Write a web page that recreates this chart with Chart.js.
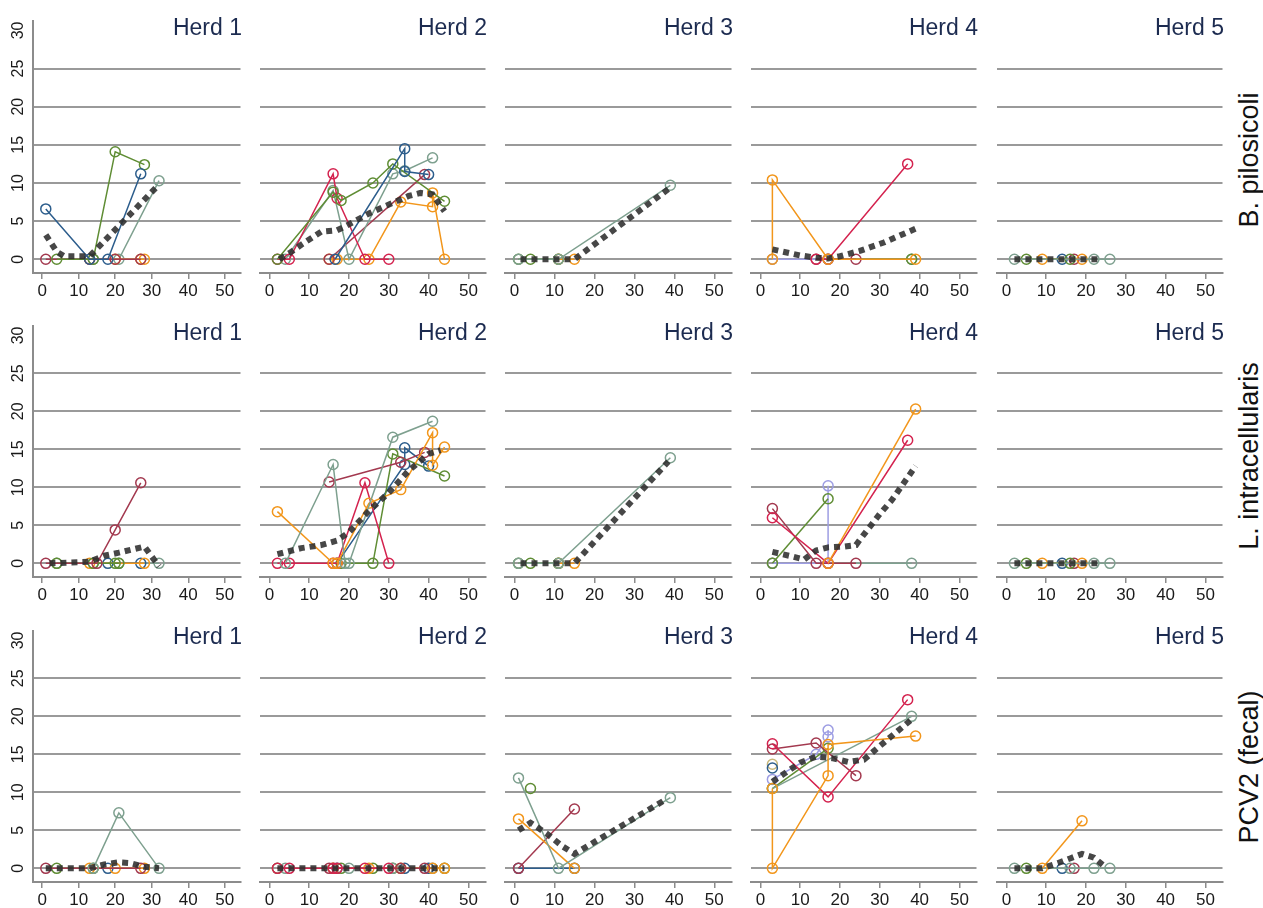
<!DOCTYPE html>
<html><head><meta charset="utf-8">
<script src="https://cdn.jsdelivr.net/npm/chart.js@4.4.0/dist/chart.umd.min.js"></script>
<style>
html,body{margin:0;padding:0;background:#fff;}
#wrap{position:relative;width:1263px;height:908px;overflow:hidden;font-family:"Liberation Sans",Arial,sans-serif;background:#fff;}
canvas{position:absolute;}
.herd{position:absolute;font-size:23px;color:#1c2b50;white-space:nowrap;line-height:1;text-align:right;}
.rowlab{position:absolute;font-size:27px;color:#111;white-space:nowrap;line-height:1;transform:translate(-50%,-50%) rotate(-90deg);}
</style></head><body><div id="wrap"></div>
<script>
// ---------- tick labels / categories ----------
const X_TICKS = [0, 10, 20, 30, 40, 50];
const Y_TICKS = [0, 5, 10, 15, 20, 25, 30];
const HERDS = ['Herd 1', 'Herd 2', 'Herd 3', 'Herd 4', 'Herd 5'];
const PATHOGENS = ['B. pilosicoli', 'L. intracellularis', 'PCV2 (fecal)'];

// ---------- B. pilosicoli ----------
const bpH1 = [
  {id:'blue',   pts:[[1,6.6],[13,0],[18,0],[27,11.2]]},
  {id:'green',  pts:[[4,0],[14,0],[20,14.1],[28,12.4]]},
  {id:'maroon', pts:[[1,0],[13,0],[20,0],[27,0]]},
  {id:'orange', pts:[[13,0],[20,0],[27,0],[28,0]]},
  {id:'teal',   pts:[[14,0],[21,0],[32,10.3]]},
  {id:'mean',   pts:[[1,3.2],[4,1],[6,0.4],[13,0.4],[32,9.8]]}
];
const bpH2 = [
  {id:'blue',   pts:[[16.5,0],[34,14.5],[34,11.5],[40,11.1]]},
  {id:'green',  pts:[[2,0],[16,8.8],[18,7.7],[26,10],[31,12.5],[44,7.6]]},
  {id:'red',    pts:[[2,0],[5,0],[16,11.2],[17,8],[24,0],[30,0]]},
  {id:'teal',   pts:[[4,0],[16,9],[20,0],[31,11.2],[34,11.6],[41,13.3]]},
  {id:'maroon', pts:[[15,0],[39,11.1]]},
  {id:'orange', pts:[[15,0],[17,0],[25,0],[33,7.5],[41,6.9],[41,8.7],[44,0]]},
  {id:'mean',   pts:[[2.5,0],[5,0.8],[8,1.9],[13,3.6],[17,3.8],[19,4.3],[25,6],[31,7.4],[35,8.3],[38,8.7],[41,8.5],[44,6.3]]}
];
const bpH3 = [
  {id:'teal',   pts:[[1,0],[11,0],[39,9.7]]},
  {id:'green',  pts:[[1,0],[4,0],[11,0]]},
  {id:'orange', pts:[[11,0],[15,0]]},
  {id:'mean',   pts:[[1.5,0],[15,0],[38.5,9.2]]}
];
const bpH4 = [
  {id:'orange',   pts:[[3,0],[3,10.4],[17,0],[39,0]]},
  {id:'red',      pts:[[14,0],[17,0],[37,12.5]]},
  {id:'maroon',   pts:[[14,0],[24,0]]},
  {id:'lavender', pts:[[3,0],[17,0]]},
  {id:'green',    pts:[[17,0],[38,0]]},
  {id:'teal',     pts:[[38,0]]},
  {id:'khaki',    pts:[[3,0]]},
  {id:'mean',     pts:[[3,1.3],[10,0.5],[14,0.2],[17,0.1],[20,0.4],[25,1.1],[31,2.2],[39,4.0]]}
];
const bpH5 = [
  {id:'teal',   pts:[[2,0],[22,0],[26,0]]},
  {id:'green',  pts:[[5,0],[16,0]]},
  {id:'orange', pts:[[9,0],[19,0]]},
  {id:'blue',   pts:[[14,0]]},
  {id:'maroon', pts:[[17,0]]},
  {id:'mean',   pts:[[2,0],[23,0]]}
];

// ---------- L. intracellularis ----------
const liH1 = [
  {id:'maroon', pts:[[1,0],[15,0],[20,4.4],[27,10.6]]},
  {id:'green',  pts:[[4,0],[14,0],[20,0],[21,0]]},
  {id:'orange', pts:[[13,0],[28,0]]},
  {id:'blue',   pts:[[18,0],[27,0]]},
  {id:'teal',   pts:[[4,0],[14,0],[21,0],[32,0]]},
  {id:'mean',   pts:[[2,0],[13,0.2],[17,1],[21,1.4],[28,2.2],[32,-0.4]]}
];
const liH2 = [
  {id:'teal',    pts:[[4,0],[16,13],[19,0],[20,0],[31,16.6],[41,18.7]]},
  {id:'orange',  pts:[[2,6.8],[16,0]]},
  {id:'orange',  pts:[[17,0],[25,7.9],[33,9.7],[41,17.2],[41,12.9],[44,15.3]]},
  {id:'red',     pts:[[2,0],[5,0],[16,0],[17,0],[24,10.6],[30,0]]},
  {id:'maroon',  pts:[[15,10.7],[33,13.3],[39,14.6]]},
  {id:'green',   pts:[[18,0],[26,0],[31,14.4],[44,11.5]]},
  {id:'blue',    pts:[[17,0],[34,13],[34,15.2],[40,12.8]]},
  {id:'mean',    pts:[[2,1.2],[8,2],[13,2.4],[17,3],[20,4.1],[25,6.9],[30,9.3],[35,12.2],[38,13.5],[40,14.4],[43,14.9]]}
];
const liH3 = [
  {id:'teal',   pts:[[1,0],[11,0],[39,13.9]]},
  {id:'green',  pts:[[1,0],[4,0],[11,0]]},
  {id:'orange', pts:[[11,0],[15,0]]},
  {id:'mean',   pts:[[1.5,0],[15,0],[38.5,13.4]]}
];
const liH4 = [
  {id:'orange',   pts:[[17,0],[39,20.3]]},
  {id:'red',      pts:[[3,6],[17,0],[37,16.2]]},
  {id:'maroon',   pts:[[3,7.2],[14,0],[24,0]]},
  {id:'green',    pts:[[3,0],[17,8.5]]},
  {id:'lavender', pts:[[3,0],[17,0],[17,10.2]]},
  {id:'teal',     pts:[[17,0],[38,0]]},
  {id:'khaki',    pts:[[3,0]]},
  {id:'mean',     pts:[[3,1.5],[8,0.9],[11,0.5],[14,1.7],[17,2.1],[21,2.2],[24,2.4],[26,3.8],[30,6.5],[33,8.3],[39,12.8]]}
];
const liH5 = [
  {id:'teal',   pts:[[2,0],[22,0],[26,0]]},
  {id:'green',  pts:[[5,0],[16,0]]},
  {id:'orange', pts:[[9,0],[19,0]]},
  {id:'blue',   pts:[[14,0]]},
  {id:'maroon', pts:[[17,0]]},
  {id:'mean',   pts:[[2,0],[23,0]]}
];

// ---------- PCV2 (fecal) ----------
const pcH1 = [
  {id:'teal',   pts:[[14,0],[21,7.3],[32,0]]},
  {id:'maroon', pts:[[1,0],[27,0]]},
  {id:'green',  pts:[[4,0],[14,0]]},
  {id:'orange', pts:[[13,0],[20,0],[28,0]]},
  {id:'blue',   pts:[[18,0]]},
  {id:'mean',   pts:[[1,0],[13,0],[17,0.5],[21,0.8],[24,0.7],[28,0.2],[32,0]]}
];
const pcH2 = [
  {id:'red',    pts:[[2,0],[5,0],[16,0],[17,0],[24,0],[30,0]]},
  {id:'maroon', pts:[[15,0],[33,0],[39,0]]},
  {id:'orange', pts:[[16,0],[25,0],[33,0],[41,0],[44,0]]},
  {id:'teal',   pts:[[4,0],[16,0],[20,0],[31,0],[41,0]]},
  {id:'green',  pts:[[2,0],[18,0],[26,0],[31,0],[44,0]]},
  {id:'blue',   pts:[[17,0],[34,0],[40,0]]},
  {id:'mean',   pts:[[2,0],[44,0]]}
];
const pcH3 = [
  {id:'teal',   pts:[[1,11.9],[11,0],[39,9.3]]},
  {id:'green',  pts:[[4,10.5]]},
  {id:'orange', pts:[[1,6.5],[15,0]]},
  {id:'maroon', pts:[[1,0],[15,7.8]]},
  {id:'blue',   pts:[[1,0],[15,0]]},
  {id:'mean',   pts:[[1,5],[4,6],[8,4.6],[12,2.9],[15,1.9],[38,9.1]]}
];
const pcH4 = [
  {id:'orange',   pts:[[3,10.5],[3,0],[17,12.2],[17,16.3],[39,17.4]]},
  {id:'red',      pts:[[3,16.4],[17,9.4],[37,22.2]]},
  {id:'maroon',   pts:[[3,15.7],[14,16.5],[24,12.2]]},
  {id:'teal',     pts:[[3,10.5],[38,20]]},
  {id:'green',    pts:[[3,10.5],[17,15.8]]},
  {id:'lavender', pts:[[3,11.7],[14,15],[17,17.3],[17,18.2]]},
  {id:'blue',     pts:[[3,13.2]]},
  {id:'khaki',    pts:[[3,13.7]]},
  {id:'mean',     pts:[[3,11.4],[10,13.9],[14,14.7],[18,14.5],[22,14],[26,14.3],[30,16.1],[38,19.6]]}
];
const pcH5 = [
  {id:'orange', pts:[[9,0],[19,6.25]]},
  {id:'teal',   pts:[[2,0],[16,0],[22,0],[26,0]]},
  {id:'green',  pts:[[5,0]]},
  {id:'blue',   pts:[[14,0]]},
  {id:'maroon', pts:[[17,0]]},
  {id:'mean',   pts:[[2,0],[9,0],[13,0.7],[16,1.3],[19,1.9],[22,1.4],[25,0.1]]}
];

const PANELS = [
  [bpH1, bpH2, bpH3, bpH4, bpH5],
  [liH1, liH2, liH3, liH4, liH5],
  [pcH1, pcH2, pcH3, pcH4, pcH5]
];

// ---------- styling ----------
const PALETTE = {blue:'#2c5d8c', green:'#5f8d34', orange:'#f2961b', red:'#d4234f',
  maroon:'#a3394f', teal:'#7ea08f', lavender:'#9d9de3', khaki:'#c8b87b'};
const FONT = '"Liberation Sans", Arial, sans-serif';
const COLS = [[33,247],[253,492],[498,738],[744,983],[990,1229]];
const ROWS = [[14,273],[319,577],[624,882]];
const TITLE_Y = [28, 333, 637];
const ROWLAB_Y = [160, 456, 767];
const YW = 33, XH = 34;
const GRID = '#9a9a9a', AXIS = '#8c8c8c';

const wrap = document.getElementById('wrap');

PANELS.forEach((row, r) => {
  row.forEach((series, c) => {
    const [l, rt] = COLS[c];
    const [t, b] = ROWS[r];
    const yw = c === 0 ? YW : 0;
    const cv = document.createElement('canvas');
    const W = rt - l + yw, H = b - t + XH;
    cv.width = W; cv.height = H;
    cv.style.left = (l - yw) + 'px'; cv.style.top = t + 'px';
    cv.style.width = W + 'px'; cv.style.height = H + 'px';
    wrap.appendChild(cv);

    const datasets = series.map(s => {
      if (s.id === 'mean') {
        return {data: s.pts, borderColor:'rgba(45,45,45,0.88)', borderWidth:6,
          borderDash:[6,5], borderCapStyle:'butt', pointRadius:0, fill:false,
          tension:0, order:0};
      }
      const col = PALETTE[s.id];
      return {data: s.pts, borderColor: col, borderWidth:1.5, pointRadius:5,
        pointBorderWidth:1.5, pointBorderColor: col, pointBackgroundColor:'rgba(0,0,0,0)',
        fill:false, tension:0, order:1};
    });

    new Chart(cv, {
      type:'line',
      data:{datasets},
      options:{
        responsive:false, animation:false, devicePixelRatio:1,
        layout:{padding:0},
        plugins:{legend:{display:false}, tooltip:{enabled:false}, title:{display:false}},
        scales:{
          x:{type:'linear', min:-2.5, max:54.3,
            afterBuildTicks:s=>{ s.ticks = X_TICKS.map(v=>({value:v})); },
            afterFit:s=>{ s.height = XH; s.paddingLeft = 0; s.paddingRight = 0; },
            grid:{drawOnChartArea:false, drawTicks:true, tickLength:6, color:AXIS, lineWidth:1.5},
            border:{display:true, color:AXIS, width:2},
            ticks:{color:'#1a1a1a', font:{family:FONT, size:17}, padding:2,
              maxRotation:0, minRotation:0, autoSkip:false}
          },
          y:{type:'linear', min:-1.8, max:31.3,
            afterBuildTicks:s=>{ s.ticks = Y_TICKS.map(v=>({value:v})); },
            afterFit:s=>{ s.width = yw; s.paddingTop = 0; s.paddingBottom = 0; },
            grid:{drawTicks:false, lineWidth:2,
              color:ctx => (ctx.tick && ctx.tick.value === 30) ? 'rgba(0,0,0,0)' : GRID},
            border:{display:c === 0, color:AXIS, width:2},
            ticks:{display:c === 0, color:'#1a1a1a', font:{family:FONT, size:16},
              minRotation:90, maxRotation:90, crossAlign:'center', padding:6}
          }
        }
      }
    });

    const h = document.createElement('div');
    h.className = 'herd';
    h.textContent = HERDS[c];
    h.style.right = (1263 - (rt - 5)) + 'px';
    h.style.top = (TITLE_Y[r] - 12) + 'px';
    wrap.appendChild(h);
  });
  const lab = document.createElement('div');
  lab.className = 'rowlab';
  lab.textContent = PATHOGENS[r];
  lab.style.left = '1249px';
  lab.style.top = ROWLAB_Y[r] + 'px';
  wrap.appendChild(lab);
});
</script></body></html>
